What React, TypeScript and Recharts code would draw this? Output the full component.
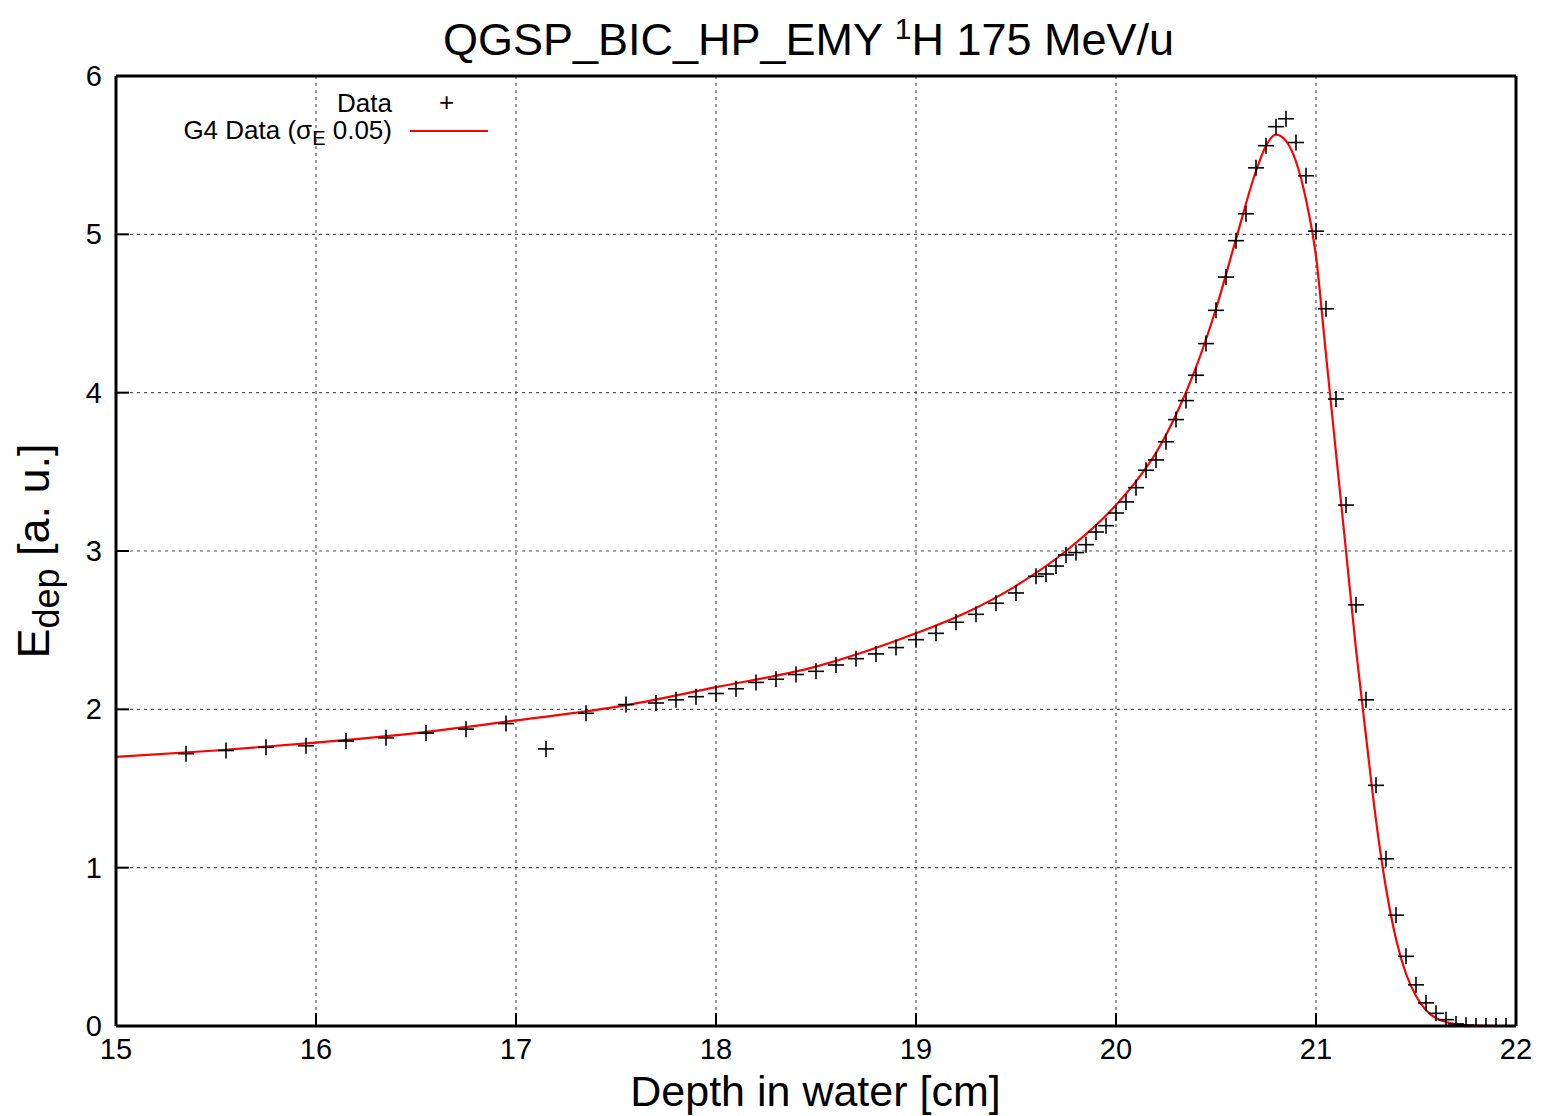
import React from "react";
import { ComposedChart, Line, Scatter, XAxis, YAxis, CartesianGrid } from "recharts";

// measured depth points (cm) and deposited energy (a.u.)
const pointDepth = [
  15.35, 15.55, 15.75, 15.95, 16.15, 16.35, 16.55, 16.75, 16.95, 17.15, 17.35, 17.55,
  17.7, 17.8, 17.9, 18.0, 18.1, 18.2, 18.3, 18.4, 18.5, 18.6, 18.7, 18.8, 18.9, 19.0,
  19.1, 19.2, 19.3, 19.4, 19.5, 19.6, 19.65, 19.7, 19.75, 19.8, 19.85, 19.9, 19.95, 20.0,
  20.05, 20.1, 20.15, 20.2, 20.25, 20.3, 20.35, 20.4, 20.45, 20.5, 20.55, 20.6, 20.65,
  20.7, 20.75, 20.8, 20.85, 20.9, 20.95, 21.0, 21.05, 21.1, 21.15, 21.2, 21.25, 21.3,
  21.35, 21.4, 21.45, 21.5, 21.55, 21.6, 21.65, 21.7, 21.75, 21.8, 21.85, 21.9, 21.95,
];
const pointEdep = [
  1.72, 1.74, 1.76, 1.77, 1.8, 1.82, 1.85, 1.875, 1.91, 1.75, 1.975, 2.03,
  2.04, 2.06, 2.08, 2.1, 2.13, 2.17, 2.19, 2.22, 2.24, 2.28, 2.32, 2.35, 2.39, 2.44,
  2.48, 2.55, 2.6, 2.67, 2.735, 2.84, 2.855, 2.905, 2.975, 2.99, 3.04, 3.12, 3.16, 3.24,
  3.31, 3.4, 3.51, 3.575, 3.69, 3.83, 3.95, 4.11, 4.31, 4.52, 4.73, 4.96, 5.13,
  5.42, 5.56, 5.68, 5.73, 5.58, 5.37, 5.02, 4.53, 3.96, 3.29, 2.66, 2.06, 1.52,
  1.056, 0.7, 0.44, 0.26, 0.146, 0.08, 0.04, 0.013, 0.005, 0, 0, 0, 0,
];

// G4 simulation curve
const simDepth = [
  15.0, 15.5, 16.0, 16.5, 17.0, 17.5, 18.0, 18.5, 19.0, 19.25, 19.5, 19.75, 20.0, 20.1,
  20.2, 20.3, 20.4, 20.5, 20.6, 20.7, 20.75, 20.8, 20.85, 20.9, 20.95, 21.0, 21.05, 21.1,
  21.15, 21.2, 21.25, 21.3, 21.35, 21.4, 21.45, 21.5, 21.55, 21.6, 21.65, 21.7, 21.8, 21.9, 22.0,
];
const simEdep = [
  1.7, 1.74, 1.79, 1.85, 1.93, 2.015, 2.14, 2.27, 2.48, 2.61, 2.78, 3.0, 3.29, 3.44,
  3.62, 3.86, 4.16, 4.53, 4.97, 5.4, 5.56, 5.63, 5.59, 5.46, 5.22, 4.86, 4.24, 3.62,
  3.0, 2.38, 1.83, 1.3, 0.87, 0.55, 0.33, 0.19, 0.1, 0.05, 0.025, 0.011, 0.002, 0, 0,
];

const xTicks = [15, 16, 17, 18, 19, 20, 21, 22];
const yTicks = [0, 1, 2, 3, 4, 5, 6];

const FONT = "'Liberation Sans', Arial, sans-serif";
const TICK_LEN = 13;

const points = pointDepth.map((x, i) => ({ x, y: pointEdep[i] }));
const sim = simDepth.map((x, i) => ({ x, y: simEdep[i] }));

const Plus = (props: any) => {
  const { cx, cy } = props;
  return (
    <g stroke="#000" strokeWidth={1.6}>
      <line x1={cx - 8} y1={cy} x2={cx + 8} y2={cy} />
      <line x1={cx} y1={cy - 8} x2={cx} y2={cy + 8} />
    </g>
  );
};

// ticks point inward like gnuplot, labels outside
const BottomTick = ({ x, y, payload }: any) => (
  <g>
    <line x1={x} y1={y} x2={x} y2={y - TICK_LEN} stroke="#000" strokeWidth={2} />
    <text x={x} y={y + 33} textAnchor="middle" fontSize={29} fontFamily={FONT} fill="#000">
      {payload.value}
    </text>
  </g>
);
const TopTick = ({ x, y }: any) => (
  <line x1={x} y1={y} x2={x} y2={y + TICK_LEN} stroke="#000" strokeWidth={2} />
);
const LeftTick = ({ x, y, payload }: any) => (
  <g>
    <line x1={x} y1={y} x2={x + TICK_LEN} y2={y} stroke="#000" strokeWidth={2} />
    <text x={x - 14} y={y} dy="0.35em" textAnchor="end" fontSize={29} fontFamily={FONT} fill="#000">
      {payload.value}
    </text>
  </g>
);
const RightTick = ({ x, y }: any) => (
  <line x1={x} y1={y} x2={x - TICK_LEN} y2={y} stroke="#000" strokeWidth={2} />
);

const LegendBox = () => (
  <div style={{ position: "absolute", left: 0, top: 88, width: 500, height: 60, fontSize: 26, color: "#000" }}>
    <div style={{ position: "absolute", right: 108, top: 3, lineHeight: "24px" }}>Data</div>
    <div style={{ position: "absolute", left: 439, top: 2, fontSize: 26, lineHeight: "24px" }}>+</div>
    <div style={{ position: "absolute", right: 108, top: 30, lineHeight: "24px", whiteSpace: "nowrap" }}>
      G4 Data (σ<sub style={{ fontSize: 20, lineHeight: 0 }}>E</sub> 0.05)
    </div>
    <div style={{ position: "absolute", left: 410, top: 42, width: 78, height: 2, background: "#ff0000" }} />
  </div>
);

export default function App() {
  return (
    <div style={{ position: "absolute", left: 0, top: 0, width: 1547, height: 1116, background: "#fff", fontFamily: FONT }}>
      <div style={{ position: "absolute", left: 0, width: 1547, top: 12, paddingLeft: 70, boxSizing: "border-box", textAlign: "center", fontSize: 45 }}>
        QGSP_BIC_HP_EMY <sup style={{ fontSize: 30, verticalAlign: "16px" }}>1</sup>H 175 MeV/u
      </div>
      <ComposedChart width={1547} height={1116} margin={{ top: 75, right: 30, bottom: 0, left: 0 }}>
        <CartesianGrid stroke="#555" strokeDasharray="3 4" strokeWidth={1.2} />
        <XAxis
          dataKey="x"
          type="number"
          domain={[15, 22]}
          ticks={xTicks}
          height={90}
          tickSize={0}
          tickMargin={0}
          tick={<BottomTick />}
          axisLine={{ stroke: "#000", strokeWidth: 3 }}
          tickLine={false}
          allowDataOverflow
        />
        <XAxis
          xAxisId="top"
          orientation="top"
          dataKey="x"
          type="number"
          domain={[15, 22]}
          ticks={xTicks}
          height={1}
          tickSize={0}
          tickMargin={0}
          tick={<TopTick />}
          axisLine={{ stroke: "#000", strokeWidth: 3 }}
          tickLine={false}
        />
        <YAxis
          type="number"
          domain={[0, 6]}
          ticks={yTicks}
          width={116}
          tickSize={0}
          tickMargin={0}
          tick={<LeftTick />}
          axisLine={{ stroke: "#000", strokeWidth: 3 }}
          tickLine={false}
          allowDataOverflow
        />
        <YAxis
          yAxisId="right"
          orientation="right"
          type="number"
          domain={[0, 6]}
          ticks={yTicks}
          width={1}
          tickSize={0}
          tickMargin={0}
          tick={<RightTick />}
          axisLine={{ stroke: "#000", strokeWidth: 3 }}
          tickLine={false}
        />
        <Line
          data={sim}
          dataKey="y"
          name="G4 Data"
          type="monotone"
          stroke="#ff0000"
          strokeWidth={2.2}
          dot={false}
          isAnimationActive={false}
        />
        <Scatter data={points} dataKey="y" name="Data" shape={<Plus />} isAnimationActive={false} />
      </ComposedChart>
      <LegendBox />
      <div style={{ position: "absolute", left: 0, width: 1547, top: 1072, lineHeight: 0.9, paddingLeft: 84, boxSizing: "border-box", textAlign: "center", fontSize: 43 }}>
        Depth in water [cm]
      </div>
      <div
        style={{
          position: "absolute",
          left: 38,
          top: 551,
          transform: "translate(-50%, -50%) rotate(-90deg)",
          whiteSpace: "nowrap",
          lineHeight: 1,
          fontSize: 45,
        }}
      >
        E<sub style={{ fontSize: 36 }}>dep</sub> [a. u.]
      </div>
    </div>
  );
}
